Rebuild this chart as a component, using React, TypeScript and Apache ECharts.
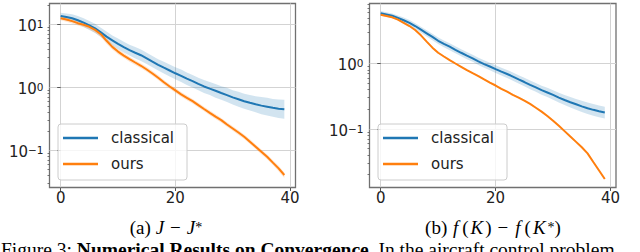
import React, { useEffect, useRef } from "react";
import * as echarts from "echarts";

const iterations = Array.from({ length: 40 }, (_, i) => i);

// (a) J - J*
const aClassical = [13.7, 13.2, 12.6, 11.7, 10.7, 9.7, 8.7, 7.5, 6.4, 5.6, 4.9, 4.35, 3.9, 3.55, 3.24, 2.88, 2.56, 2.28, 2.05, 1.85, 1.67, 1.52, 1.37, 1.25, 1.13, 1.03, 0.95, 0.88, 0.81, 0.75, 0.69, 0.645, 0.6, 0.565, 0.535, 0.51, 0.49, 0.47, 0.456, 0.447];
const aClassicalUpper = [15.4, 15.0, 14.5, 13.6, 12.6, 11.4, 10.3, 8.9, 7.7, 6.7, 5.96, 5.3, 4.75, 4.37, 3.99, 3.54, 3.15, 2.8, 2.55, 2.3, 2.08, 1.91, 1.72, 1.57, 1.42, 1.31, 1.21, 1.13, 1.04, 0.98, 0.9, 0.85, 0.79, 0.75, 0.72, 0.7, 0.68, 0.65, 0.64, 0.63];
const aClassicalLower = [12.2, 11.6, 11.0, 10.1, 9.1, 8.2, 7.3, 6.3, 5.3, 4.65, 4.03, 3.58, 3.2, 2.88, 2.63, 2.34, 2.08, 1.85, 1.65, 1.49, 1.34, 1.21, 1.09, 0.99, 0.9, 0.81, 0.75, 0.68, 0.63, 0.58, 0.53, 0.49, 0.455, 0.425, 0.4, 0.37, 0.355, 0.34, 0.325, 0.315];
const aOurs = [12.6, 12.0, 11.3, 10.5, 9.9, 9.2, 8.2, 7.0, 5.5, 4.4, 3.7, 3.2, 2.8, 2.48, 2.2, 1.92, 1.66, 1.42, 1.2, 1.03, 0.89, 0.77, 0.68, 0.6, 0.52, 0.45, 0.39, 0.34, 0.3, 0.255, 0.22, 0.19, 0.163, 0.136, 0.113, 0.094, 0.078, 0.063, 0.051, 0.04];
const aOursUpper = [13.5, 12.9, 12.2, 11.4, 10.7, 10.0, 9.0, 7.7, 6.1, 4.85, 4.05, 3.5, 3.06, 2.7, 2.4, 2.1, 1.81, 1.55, 1.31, 1.12, 0.97, 0.84, 0.74, 0.65, 0.565, 0.49, 0.425, 0.37, 0.325, 0.277, 0.239, 0.206, 0.177, 0.148, 0.123, 0.102, 0.085, 0.069, 0.056, 0.044];
const aOursLower = [11.7, 11.1, 10.4, 9.6, 9.0, 8.3, 7.4, 6.3, 4.95, 3.98, 3.36, 2.92, 2.56, 2.27, 2.01, 1.76, 1.52, 1.3, 1.1, 0.945, 0.815, 0.705, 0.623, 0.55, 0.477, 0.413, 0.358, 0.312, 0.275, 0.234, 0.202, 0.174, 0.15, 0.125, 0.104, 0.086, 0.071, 0.058, 0.046, 0.036];

// (b) f(K) - f(K*)
const bClassical = [5.9, 5.65, 5.4, 5.0, 4.6, 4.2, 3.75, 3.3, 2.9, 2.55, 2.23, 2.0, 1.81, 1.62, 1.46, 1.32, 1.2, 1.08, 0.98, 0.9, 0.82, 0.75, 0.69, 0.63, 0.57, 0.52, 0.47, 0.43, 0.39, 0.36, 0.33, 0.3, 0.276, 0.255, 0.237, 0.22, 0.206, 0.195, 0.185, 0.177];
const bClassicalUpper = [6.35, 6.1, 5.85, 5.45, 5.05, 4.62, 4.15, 3.66, 3.23, 2.85, 2.5, 2.25, 2.04, 1.83, 1.65, 1.5, 1.36, 1.23, 1.12, 1.03, 0.94, 0.86, 0.795, 0.728, 0.66, 0.603, 0.547, 0.502, 0.457, 0.424, 0.39, 0.357, 0.33, 0.307, 0.287, 0.268, 0.253, 0.24, 0.228, 0.218];
const bClassicalLower = [5.45, 5.2, 4.98, 4.58, 4.19, 3.82, 3.39, 2.97, 2.6, 2.28, 1.99, 1.78, 1.6, 1.43, 1.29, 1.16, 1.06, 0.95, 0.86, 0.786, 0.715, 0.654, 0.6, 0.545, 0.492, 0.448, 0.404, 0.368, 0.333, 0.306, 0.279, 0.252, 0.231, 0.212, 0.196, 0.181, 0.168, 0.158, 0.15, 0.144];
const bOurs = [5.6, 5.35, 5.1, 4.7, 4.2, 3.75, 3.26, 2.7, 2.16, 1.75, 1.46, 1.28, 1.13, 1.0, 0.89, 0.79, 0.71, 0.64, 0.57, 0.51, 0.46, 0.41, 0.37, 0.33, 0.3, 0.27, 0.24, 0.21, 0.183, 0.157, 0.133, 0.111, 0.092, 0.076, 0.063, 0.052, 0.042, 0.031, 0.023, 0.017];
const bOursUpper = [5.77, 5.51, 5.25, 4.84, 4.33, 3.86, 3.36, 2.78, 2.22, 1.8, 1.5, 1.32, 1.16, 1.03, 0.917, 0.814, 0.731, 0.659, 0.587, 0.525, 0.474, 0.422, 0.381, 0.34, 0.309, 0.278, 0.247, 0.216, 0.188, 0.162, 0.137, 0.114, 0.095, 0.078, 0.065, 0.0536, 0.0433, 0.032, 0.0237, 0.0175];
const bOursLower = [5.43, 5.19, 4.95, 4.56, 4.07, 3.64, 3.16, 2.62, 2.1, 1.7, 1.42, 1.24, 1.1, 0.97, 0.863, 0.766, 0.689, 0.621, 0.553, 0.495, 0.446, 0.398, 0.359, 0.32, 0.291, 0.262, 0.233, 0.204, 0.178, 0.152, 0.129, 0.108, 0.089, 0.074, 0.061, 0.0504, 0.0407, 0.03, 0.0223, 0.0165];

const xTicks = [0, 20, 40];
const aMajorY = [0.1, 1, 10];
const aMinorY = [0.03, 0.04, 0.05, 0.06, 0.07, 0.08, 0.09, 0.2, 0.3, 0.4, 0.5, 0.6, 0.7, 0.8, 0.9, 2, 3, 4, 5, 6, 7, 8, 9, 20];
const bMajorY = [0.1, 1];
const bMinorY = [0.02, 0.03, 0.04, 0.05, 0.06, 0.07, 0.08, 0.09, 0.2, 0.3, 0.4, 0.5, 0.6, 0.7, 0.8, 0.9, 2, 3, 4, 5, 6, 7, 8];
const seriesNames = ["classical", "ours"];

const BLUE = "#1f77b4";
const ORANGE = "#ff7f0e";
const BLUE_BAND = "rgba(31,119,180,0.2)";
const ORANGE_BAND = "rgba(255,127,14,0.2)";
const SANS = "DejaVu Sans";
const SERIF = "Liberation Serif";
const GRID_COLOR = "#d3d3d3";
const TICK_COLOR = "#555";

const pairs = (vals: number[]) => vals.map((v, i) => [iterations[i], v]);

function band(lo: number[], hi: number[], fill: string, axisIdx: number, yIdx: number) {
  return {
    type: "custom",
    xAxisIndex: axisIdx,
    yAxisIndex: yIdx,
    silent: true,
    clip: true,
    data: [[iterations[0], lo[0], hi[0]]],
    encode: { x: 0, y: [1, 2] },
    renderItem: (_params: any, api: any) => {
      const top = hi.map((v, i) => api.coord([iterations[i], v]));
      const bottom = lo.map((v, i) => api.coord([iterations[i], v])).reverse();
      return {
        type: "polygon",
        shape: { points: top.concat(bottom) },
        style: { fill, stroke: "none" },
      };
    },
  };
}

function line(name: string, vals: number[], color: string, axisIdx: number, yIdx: number) {
  return {
    type: "line",
    name,
    xAxisIndex: axisIdx,
    yAxisIndex: yIdx,
    data: pairs(vals),
    showSymbol: false,
    symbol: "none",
    color,
    itemStyle: { color },
    lineStyle: { color, width: 2 },
    z: 3,
  };
}

const expLabel = (v: number) => {
  const e = Math.round(Math.log10(v));
  const s = e < 0 ? "\u2212" + -e : String(e);
  return `{b|10}{s|${s}}`;
};

const labelRich = {
  b: { fontFamily: SANS, fontSize: 15, color: "#222", lineHeight: 15, verticalAlign: "bottom" },
  s: { fontFamily: SANS, fontSize: 10.5, color: "#222", lineHeight: 11, verticalAlign: "top" },
};

function xAxis(gridIndex: number) {
  return {
    type: "value",
    gridIndex,
    min: -1.95,
    max: 40.95,
    axisLine: { show: false },
    axisTick: { show: true, length: 3.5, customValues: xTicks, lineStyle: { color: TICK_COLOR, width: 1 } },
    axisLabel: { customValues: xTicks, margin: 3, fontFamily: SANS, fontSize: 15, color: "#222" },
    splitLine: { show: true, customValues: xTicks, lineStyle: { color: GRID_COLOR, width: 1 } },
  };
}

function yMain(gridIndex: number, min: number, max: number, major: number[]) {
  return {
    type: "log",
    logBase: 10,
    gridIndex,
    min,
    max,
    position: "left",
    axisLine: { show: false },
    axisTick: { show: true, length: 3.5, customValues: major, lineStyle: { color: TICK_COLOR, width: 1 } },
    axisLabel: { customValues: major, formatter: expLabel, rich: labelRich, margin: 6, padding: [4, 0, 0, 0] },
    splitLine: { show: true, customValues: major, lineStyle: { color: GRID_COLOR, width: 1 } },
  };
}

function yMinor(gridIndex: number, min: number, max: number, minor: number[]) {
  return {
    type: "log",
    logBase: 10,
    gridIndex,
    min,
    max,
    position: "left",
    offset: 0,
    axisLine: { show: false },
    axisTick: { show: true, length: 2, customValues: minor, lineStyle: { color: TICK_COLOR, width: 0.8 } },
    axisLabel: { show: false },
    splitLine: { show: false },
  };
}

function legend(left: number) {
  return {
    orient: "vertical",
    left,
    top: 124,
    data: seriesNames,
    icon: "rect",
    itemWidth: 35,
    itemHeight: 2.5,
    itemGap: 6,
    padding: [4, 13, 6, 5],
    backgroundColor: "rgba(255,255,255,0.8)",
    borderColor: "#cccccc",
    borderWidth: 1,
    borderRadius: 3,
    selectedMode: false,
    textStyle: { fontFamily: SANS, fontSize: 15, color: "#222", lineHeight: 20, padding: [0, 0, 0, 8] },
  };
}

const CAP = 19;
const capRich = {
  i: { fontFamily: SERIF, fontSize: CAP, fontStyle: "italic", lineHeight: 18 },
  f: { fontFamily: SERIF, fontSize: CAP, fontStyle: "italic", lineHeight: 18, padding: [0, 4, 0, 1] },
  k: { fontFamily: SERIF, fontSize: CAP, fontStyle: "italic", lineHeight: 18, padding: [0, 2, 0, 2] },
  m: { fontFamily: SERIF, fontSize: CAP, lineHeight: 18, padding: [0, 6, 0, 6] },
  s: { fontFamily: SERIF, fontSize: 14, lineHeight: 18 },
};

export default function App() {
  const ref = useRef<HTMLDivElement>(null);
  useEffect(() => {
    if (!ref.current) return;
    const chart = echarts.init(ref.current, null, { renderer: "svg" });
    const option: any = {
      animation: false,
      backgroundColor: "#ffffff",
      grid: [
        { left: 49.5, top: 3.5, width: 246, height: 184, show: true, borderColor: "#707070", borderWidth: 1.3, containLabel: false },
        { left: 369.5, top: 3.5, width: 246.5, height: 184, show: true, borderColor: "#707070", borderWidth: 1.3, containLabel: false },
      ],
      xAxis: [xAxis(0), xAxis(1)],
      yAxis: [
        yMain(0, 0.0253, 21.6, aMajorY),
        yMinor(0, 0.0253, 21.6, aMinorY),
        yMain(1, 0.0126, 8.3, bMajorY),
        yMinor(1, 0.0126, 8.3, bMinorY),
      ],
      legend: [legend(58), legend(378)],
      series: [
        band(aClassicalLower, aClassicalUpper, BLUE_BAND, 0, 0),
        line(seriesNames[0], aClassical, BLUE, 0, 0),
        band(aOursLower, aOursUpper, ORANGE_BAND, 0, 0),
        line(seriesNames[1], aOurs, ORANGE, 0, 0),
        band(bClassicalLower, bClassicalUpper, BLUE_BAND, 1, 2),
        line(seriesNames[0], bClassical, BLUE, 1, 2),
        band(bOursLower, bOursUpper, ORANGE_BAND, 1, 2),
        line(seriesNames[1], bOurs, ORANGE, 1, 2),
      ],
      graphic: [
        {
          type: "text",
          x: 166,
          y: 227,
          style: {
            text: "(a) {i|J}{m|\u2212}{i|J}{s|*}",
            align: "center",
            verticalAlign: "middle",
            fontFamily: SERIF,
            fontSize: CAP,
            lineHeight: 18,
            fill: "#000",
            rich: capRich,
          },
        },
        {
          type: "text",
          x: 493,
          y: 227,
          style: {
            text: "(b) {f|f}({k|K}){m|\u2212}{f|f}({k|K}{s|*})",
            align: "center",
            verticalAlign: "middle",
            fontFamily: SERIF,
            fontSize: CAP,
            lineHeight: 18,
            fill: "#000",
            rich: capRich,
          },
        },
        {
          type: "text",
          x: 1,
          y: 249.5,
          style: {
            text: "Figure 3: {b|Numerical Results on Convergence.} In the aircraft control problem,",
            align: "left",
            verticalAlign: "middle",
            fontFamily: SERIF,
            fontSize: 19.5,
            lineHeight: 20,
            fill: "#000",
            rich: { b: { fontFamily: SERIF, fontSize: 19.5, fontWeight: "bold", lineHeight: 20 } },
          },
        },
      ],
    };
    chart.setOption(option);
    return () => chart.dispose();
  }, []);
  return (
    <div style={{ position: "fixed", left: 0, top: 0, width: 640, height: 252, background: "#fff" }}>
      <div ref={ref} style={{ width: 640, height: 252 }} />
    </div>
  );
}
